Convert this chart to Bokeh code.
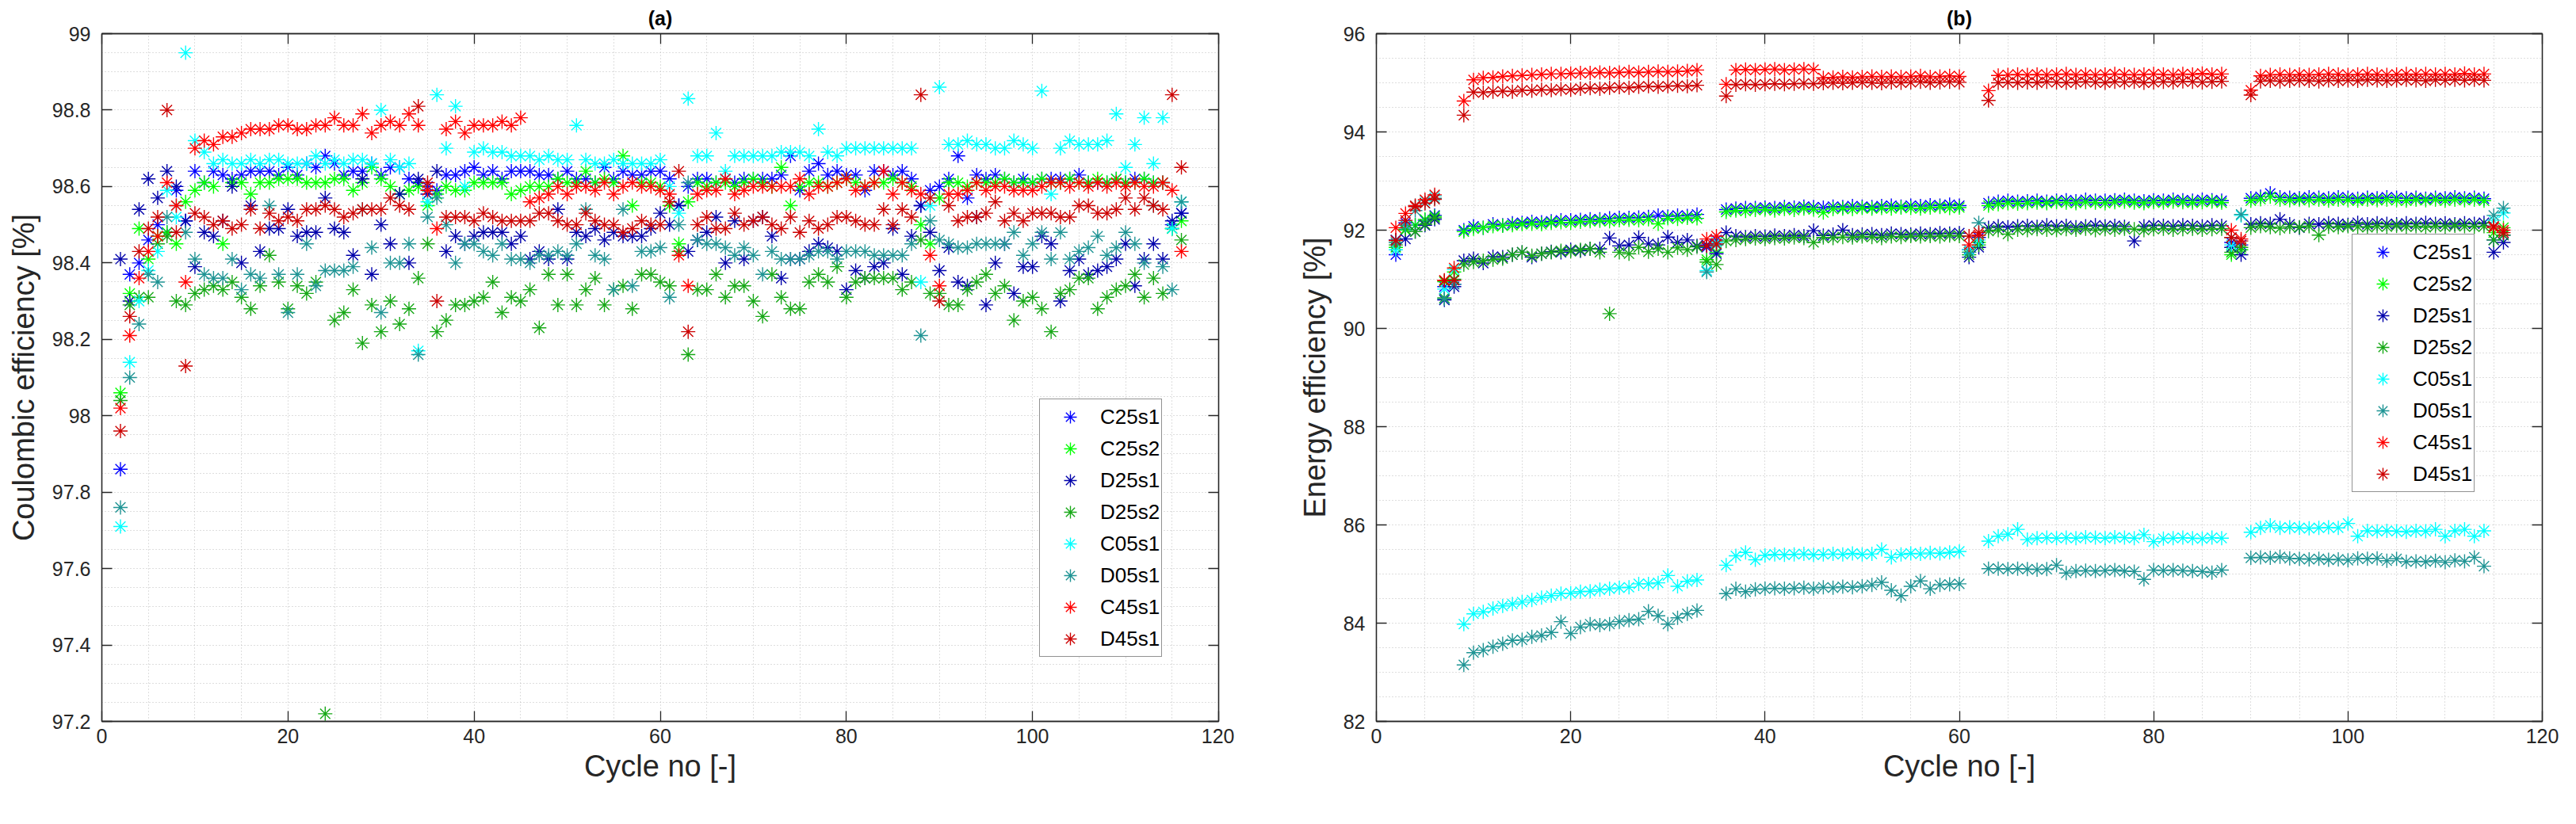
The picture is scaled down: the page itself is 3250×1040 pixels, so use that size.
from bokeh.plotting import figure
from bokeh.layouts import row
from bokeh.models import ColumnDataSource, FixedTicker, LinearAxis, Range1d
from bokeh.embed import file_html
from bokeh.resources import INLINE

# cycle numbers on the x axis
CYCLES = list(range(2, 117))

SERIES = ["C25s1", "C25s2", "D25s1", "D25s2", "C05s1", "D05s1", "C45s1", "D45s1"]
COLORS = ["#0000ff", "#00ff00", "#0000aa", "#17a817", "#00ffff", "#1f9494", "#ff0000", "#cc0000"]

# ---- Coulombic efficiency [%], cycles 2..116 (rows: 2-10, 11-20, ..., 111-116)
CE_C25S1 = [97.86, 98.37, 98.40, 98.46, 98.50, 98.48, 98.59, 98.51, 98.64,
            98.61, 98.64, 98.63, 98.62, 98.63, 98.64, 98.64, 98.64, 98.63, 98.65,
            98.63, 98.66, 98.65, 98.68, 98.66, 98.63, 98.64, 98.64, 98.66, 98.63,
            98.65, 98.65, 98.62, 98.61, 98.60, 98.59, 98.63, 98.63, 98.64, 98.65,
            98.63, 98.64, 98.62, 98.64, 98.64, 98.64, 98.63, 98.63, 98.62, 98.64,
            98.62, 98.62, 98.61, 98.65, 98.62, 98.64, 98.63, 98.63, 98.64, 98.64,
            98.62, 98.55, 98.60, 98.62, 98.62, 98.61, 98.62, 98.61, 98.62, 98.62,
            98.62, 98.62, 98.63, 98.68, 98.59, 98.64, 98.66, 98.63, 98.64, 98.63,
            98.63, 98.59, 98.64, 98.64, 98.63, 98.64, 98.62, 98.55, 98.59, 98.60,
            98.62, 98.68, 98.57, 98.63, 98.62, 98.63, 98.62, 98.61, 98.62, 98.61,
            98.62, 98.62, 98.62, 98.62, 98.63, 98.61, 98.61, 98.61, 98.62, 98.61,
            98.62, 98.62, 98.61, 98.61, 98.50, 98.53]
CE_C25S2 = [98.06, 98.32, 98.49, 98.41, 98.47, 98.48, 98.45, 98.56, 98.59,
            98.61, 98.60, 98.45, 98.61, 98.61, 98.58, 98.61, 98.61, 98.62, 98.62,
            98.62, 98.61, 98.61, 98.61, 98.62, 98.62, 98.59, 98.61, 98.65, 98.62,
            98.60, 98.58, 98.59, 98.60, 98.55, 98.58, 98.60, 98.59, 98.59, 98.61,
            98.61, 98.61, 98.61, 98.58, 98.59, 98.60, 98.60, 98.60, 98.62, 98.61,
            98.61, 98.64, 98.61, 98.62, 98.61, 98.68, 98.55, 98.61, 98.61, 98.60,
            98.55, 98.45, 98.56, 98.61, 98.60, 98.61, 98.61, 98.60, 98.61, 98.62,
            98.61, 98.60, 98.65, 98.55, 98.60, 98.61, 98.61, 98.60, 98.61, 98.62,
            98.61, 98.60, 98.61, 98.61, 98.62, 98.61, 98.60, 98.50, 98.45, 98.57,
            98.61, 98.61, 98.60, 98.61, 98.61, 98.61, 98.62, 98.61, 98.61, 98.61,
            98.62, 98.61, 98.61, 98.62, 98.61, 98.61, 98.62, 98.61, 98.62, 98.61,
            98.61, 98.62, 98.61, 98.61, 98.49, 98.51]
CE_D25S1 = [98.41, 98.30, 98.54, 98.62, 98.57, 98.64, 98.60, 98.51, 98.39,
            98.48, 98.47, 98.51, 98.60, 98.40, 98.55, 98.43, 98.49, 98.49, 98.54,
            98.47, 98.48, 98.48, 98.57, 98.49, 98.48, 98.42, 98.62, 98.37, 98.50,
            98.45, 98.58, 98.40, 98.62, 98.58, 98.64, 98.43, 98.47, 98.45, 98.47,
            98.48, 98.48, 98.48, 98.45, 98.47, 98.41, 98.43, 98.41, 98.54, 98.41,
            98.48, 98.47, 98.49, 98.46, 98.48, 98.47, 98.47, 98.47, 98.49, 98.53,
            98.50, 98.55, 98.43, 98.46, 98.48, 98.52, 98.40, 98.51, 98.41, 98.51,
            98.52, 98.47, 98.36, 98.41, 98.41, 98.43, 98.45, 98.44, 98.43, 98.33,
            98.38, 98.36, 98.39, 98.40, 98.49, 98.37, 98.47, 98.55, 98.48, 98.38,
            98.44, 98.35, 98.34, 98.52, 98.29, 98.40, 98.45, 98.32, 98.39, 98.39,
            98.47, 98.45, 98.30, 98.38, 98.41, 98.37, 98.38, 98.39, 98.41, 98.45,
            98.34, 98.41, 98.45, 98.41, 98.51, 98.53]
CE_D25S2 = [98.04, 98.29, 98.31, 98.31, 98.45, 98.47, 98.30, 98.29, 98.32,
            98.33, 98.34, 98.33, 98.35, 98.31, 98.28, 98.34, 98.42, 98.35, 98.28,
            98.34, 98.32, 98.35, 97.22, 98.25, 98.27, 98.33, 98.19, 98.29, 98.22,
            98.30, 98.24, 98.28, 98.36, 98.45, 98.22, 98.25, 98.29, 98.29, 98.30,
            98.31, 98.35, 98.27, 98.31, 98.30, 98.33, 98.23, 98.37, 98.29, 98.37,
            98.29, 98.33, 98.36, 98.29, 98.33, 98.34, 98.28, 98.37, 98.37, 98.35,
            98.34, 98.43, 98.16, 98.33, 98.33, 98.37, 98.31, 98.34, 98.34, 98.30,
            98.26, 98.37, 98.31, 98.28, 98.28, 98.35, 98.37, 98.35, 98.39, 98.31,
            98.35, 98.36, 98.36, 98.36, 98.36, 98.33, 98.35, 98.46, 98.32, 98.32,
            98.29, 98.29, 98.33, 98.35, 98.37, 98.32, 98.34, 98.25, 98.30, 98.31,
            98.28, 98.22, 98.32, 98.33, 98.36, 98.36, 98.28, 98.31, 98.33, 98.34,
            98.37, 98.31, 98.36, 98.32, 98.49, 98.46]
CE_C05S1 = [97.71, 98.14, 98.30, 98.38, 98.43, 98.59, 98.52, 98.95, 98.72,
            98.69, 98.66, 98.67, 98.66, 98.66, 98.67, 98.66, 98.67, 98.67, 98.66,
            98.66, 98.66, 98.68, 98.66, 98.67, 98.66, 98.67, 98.67, 98.66, 98.80,
            98.67, 98.65, 98.66, 98.17, 98.56, 98.84, 98.70, 98.81, 98.60, 98.69,
            98.70, 98.69, 98.69, 98.68, 98.68, 98.68, 98.67, 98.68, 98.67, 98.67,
            98.76, 98.67, 98.66, 98.66, 98.67, 98.66, 98.66, 98.66, 98.66, 98.67,
            98.60, 98.53, 98.83, 98.68, 98.68, 98.74, 98.64, 98.68, 98.68, 98.68,
            98.68, 98.68, 98.69, 98.69, 98.69, 98.68, 98.75, 98.69, 98.68, 98.70,
            98.70, 98.70, 98.70, 98.70, 98.70, 98.70, 98.70, 98.35, 98.55, 98.86,
            98.71, 98.71, 98.72, 98.71, 98.71, 98.70, 98.70, 98.72, 98.71, 98.70,
            98.85, 98.58, 98.70, 98.72, 98.71, 98.71, 98.71, 98.72, 98.79, 98.65,
            98.71, 98.78, 98.66, 98.78, 98.49, 98.56]
CE_D05S1 = [97.76, 98.10, 98.24, 98.37, 98.35, 98.52, 98.55, 98.48, 98.41,
            98.37, 98.36, 98.36, 98.41, 98.33, 98.37, 98.36, 98.55, 98.37, 98.27,
            98.37, 98.45, 98.34, 98.38, 98.38, 98.38, 98.39, 98.54, 98.44, 98.27,
            98.40, 98.40, 98.45, 98.16, 98.52, 98.57, 98.50, 98.40, 98.45, 98.45,
            98.43, 98.42, 98.45, 98.41, 98.41, 98.40, 98.42, 98.42, 98.43, 98.42,
            98.45, 98.54, 98.42, 98.41, 98.33, 98.54, 98.34, 98.43, 98.43, 98.44,
            98.31, 98.50, 98.61, 98.46, 98.45, 98.45, 98.44, 98.42, 98.44, 98.42,
            98.37, 98.43, 98.41, 98.41, 98.41, 98.42, 98.43, 98.43, 98.41, 98.43,
            98.43, 98.43, 98.42, 98.42, 98.42, 98.42, 98.45, 98.21, 98.51, 98.46,
            98.45, 98.44, 98.44, 98.45, 98.45, 98.45, 98.45, 98.48, 98.42, 98.45,
            98.48, 98.41, 98.48, 98.41, 98.43, 98.44, 98.47, 98.42, 98.44, 98.48,
            98.45, 98.40, 98.55, 98.39, 98.33, 98.56]
CE_C45S1 = [98.02, 98.21, 98.36, 98.43, 98.47, 98.61, 98.55, 98.35, 98.70,
            98.72, 98.71, 98.73, 98.73, 98.74, 98.75, 98.75, 98.75, 98.76, 98.76,
            98.75, 98.75, 98.76, 98.76, 98.78, 98.76, 98.76, 98.79, 98.74, 98.76,
            98.77, 98.76, 98.79, 98.76, 98.59, 98.49, 98.75, 98.77, 98.74, 98.76,
            98.76, 98.76, 98.77, 98.76, 98.78, 98.56, 98.57, 98.58, 98.60, 98.58,
            98.60, 98.60, 98.59, 98.61, 98.58, 98.60, 98.61, 98.60, 98.60, 98.59,
            98.58, 98.42, 98.34, 98.58, 98.59, 98.59, 98.62, 98.58, 98.59, 98.60,
            98.60, 98.60, 98.60, 98.60, 98.62, 98.58, 98.60, 98.60, 98.61, 98.62,
            98.59, 98.60, 98.61, 98.64, 98.58, 98.61, 98.59, 98.58, 98.42, 98.34,
            98.58, 98.58, 98.59, 98.61, 98.59, 98.60, 98.60, 98.59, 98.59, 98.59,
            98.60, 98.61, 98.61, 98.60, 98.61, 98.60, 98.61, 98.60, 98.61, 98.60,
            98.61, 98.60, 98.60, 98.61, 98.59, 98.43]
CE_D45S1 = [97.96, 98.26, 98.43, 98.49, 98.52, 98.80, 98.48, 98.13, 98.53,
            98.52, 98.50, 98.51, 98.49, 98.50, 98.54, 98.49, 98.53, 98.51, 98.52,
            98.51, 98.54, 98.54, 98.55, 98.54, 98.52, 98.53, 98.54, 98.54, 98.54,
            98.57, 98.55, 98.54, 98.81, 98.61, 98.30, 98.52, 98.52, 98.52, 98.51,
            98.53, 98.52, 98.51, 98.51, 98.51, 98.51, 98.53, 98.53, 98.51, 98.50,
            98.50, 98.53, 98.51, 98.50, 98.50, 98.48, 98.49, 98.51, 98.50, 98.50,
            98.56, 98.64, 98.22, 98.50, 98.52, 98.49, 98.49, 98.53, 98.50, 98.51,
            98.52, 98.50, 98.49, 98.52, 98.48, 98.51, 98.49, 98.50, 98.52, 98.52,
            98.51, 98.50, 98.50, 98.54, 98.50, 98.54, 98.52, 98.84, 98.57, 98.30,
            98.55, 98.51, 98.52, 98.52, 98.53, 98.56, 98.51, 98.53, 98.51, 98.53,
            98.53, 98.53, 98.52, 98.52, 98.55, 98.55, 98.53, 98.53, 98.54, 98.57,
            98.54, 98.57, 98.55, 98.54, 98.84, 98.65]

# ---- Energy efficiency [%], cycles 2..116 (rows: 2-10, 11-20, ..., 111-116)
EE_C25S1 = [91.50, 92.15, 92.10, 92.20, 92.30, 90.85, 90.90, 92.00, 92.08,
            92.05, 92.12, 92.10, 92.14, 92.15, 92.17, 92.16, 92.18, 92.20, 92.20,
            92.21, 92.22, 92.22, 92.24, 92.25, 92.25, 92.26, 92.27, 92.30, 92.28,
            92.30, 92.29, 92.32, 91.65, 91.80, 92.42, 92.44, 92.45, 92.45, 92.46,
            92.45, 92.47, 92.46, 92.48, 92.47, 92.46, 92.48, 92.47, 92.49, 92.48,
            92.47, 92.49, 92.50, 92.48, 92.50, 92.49, 92.51, 92.50, 92.52, 92.50,
            91.60, 91.85, 92.55, 92.58, 92.60, 92.58, 92.59, 92.60, 92.58, 92.60,
            92.61, 92.59, 92.62, 92.60, 92.60, 92.61, 92.62, 92.60, 92.59, 92.61,
            92.60, 92.62, 92.61, 92.60, 92.62, 92.61, 92.60, 91.75, 91.70, 92.65,
            92.68, 92.75, 92.67, 92.66, 92.65, 92.67, 92.66, 92.65, 92.67, 92.66,
            92.64, 92.66, 92.65, 92.67, 92.66, 92.65, 92.66, 92.64, 92.66, 92.65,
            92.67, 92.65, 92.66, 92.64, 91.80, 91.90]
EE_C25S2 = [91.65, 92.00, 92.10, 92.22, 92.28, 90.95, 91.15, 91.97, 92.03,
            92.05, 92.08, 92.09, 92.10, 92.12, 92.13, 92.12, 92.15, 92.16, 92.15,
            92.17, 92.18, 92.19, 92.18, 92.20, 92.21, 92.20, 92.22, 92.13, 92.24,
            92.23, 92.25, 92.24, 91.40, 91.55, 92.37, 92.40, 92.39, 92.41, 92.42,
            92.40, 92.43, 92.41, 92.44, 92.42, 92.36, 92.43, 92.44, 92.43, 92.45,
            92.44, 92.45, 92.44, 92.46, 92.45, 92.44, 92.46, 92.47, 92.45, 92.46,
            91.55, 91.75, 92.50, 92.53, 92.55, 92.54, 92.55, 92.56, 92.55, 92.57,
            92.56, 92.55, 92.57, 92.56, 92.55, 92.57, 92.58, 92.56, 92.55, 92.57,
            92.56, 92.58, 92.57, 92.56, 92.57, 92.58, 92.56, 91.50, 91.60, 92.60,
            92.63, 92.68, 92.62, 92.61, 92.62, 92.61, 92.62, 92.60, 92.62, 92.61,
            92.60, 92.62, 92.61, 92.62, 92.61, 92.60, 92.62, 92.61, 92.62, 92.60,
            92.62, 92.61, 92.62, 92.60, 91.95, 92.05]
EE_D25S1 = [91.80, 91.82, 91.97, 92.10, 92.22, 90.58, 90.85, 91.38, 91.42,
            91.33, 91.46, 91.45, 91.50, 91.55, 91.45, 91.52, 91.56, 91.55, 91.60,
            91.58, 91.62, 91.62, 91.84, 91.68, 91.70, 91.85, 91.72, 91.70, 91.86,
            91.75, 91.80, 91.68, 91.70, 91.52, 91.95, 91.88, 91.86, 91.88, 91.87,
            91.89, 91.88, 91.90, 91.88, 91.99, 91.89, 91.91, 92.00, 91.90, 91.91,
            91.92, 91.90, 91.93, 91.92, 91.91, 91.93, 91.92, 91.94, 91.93, 91.94,
            91.45, 91.65, 92.05, 92.08, 92.06, 92.08, 92.09, 92.07, 92.10, 92.08,
            92.09, 92.06, 92.08, 92.10, 92.08, 92.09, 92.07, 91.78, 92.08, 92.10,
            92.09, 92.08, 92.10, 92.09, 92.08, 92.10, 92.09, 91.65, 91.50, 92.12,
            92.14, 92.13, 92.22, 92.12, 92.05, 92.13, 92.12, 92.14, 92.13, 92.11,
            92.15, 92.12, 92.14, 92.13, 92.12, 92.14, 92.13, 92.15, 92.13, 92.14,
            92.12, 92.14, 92.13, 92.15, 91.55, 91.75]
EE_D25S2 = [91.70, 92.02, 91.97, 92.12, 92.25, 90.62, 91.00, 91.30, 91.35,
            91.38, 91.40, 91.42, 91.50, 91.55, 91.48, 91.52, 91.55, 91.58, 91.57,
            91.60, 91.62, 91.55, 90.30, 91.55, 91.52, 91.65, 91.56, 91.62, 91.55,
            91.64, 91.60, 91.66, 91.35, 91.30, 91.78, 91.80, 91.82, 91.83, 91.82,
            91.84, 91.83, 91.85, 91.84, 91.75, 91.85, 91.84, 91.86, 91.85, 91.87,
            91.86, 91.84, 91.87, 91.86, 91.88, 91.87, 91.88, 91.87, 91.89, 91.88,
            91.50, 91.70, 91.98, 92.00, 91.92, 92.01, 92.00, 92.02, 92.01, 92.00,
            92.02, 92.01, 92.03, 92.00, 92.02, 92.01, 92.03, 92.02, 92.00, 92.02,
            92.03, 92.01, 92.02, 92.03, 92.01, 92.02, 92.03, 91.55, 91.65, 92.05,
            92.08, 92.06, 92.04, 92.07, 92.06, 92.08, 91.90, 92.07, 92.06, 92.08,
            92.07, 92.06, 92.08, 92.07, 92.09, 92.07, 92.08, 92.06, 92.08, 92.07,
            92.09, 92.08, 92.07, 92.08, 91.80, 91.90]
EE_C05S1 = [91.60, 92.10, 92.50, 92.60, 92.70, 90.80, 91.20, 83.98, 84.19,
            84.23, 84.30, 84.35, 84.39, 84.43, 84.47, 84.52, 84.56, 84.60, 84.61,
            84.64, 84.65, 84.68, 84.70, 84.72, 84.73, 84.80, 84.80, 84.82, 84.97,
            84.75, 84.85, 84.88, 91.18, 91.75, 85.18, 85.37, 85.44, 85.29, 85.38,
            85.40, 85.39, 85.40, 85.41, 85.39, 85.40, 85.41, 85.40, 85.42, 85.40,
            85.41, 85.50, 85.34, 85.40, 85.42, 85.41, 85.43, 85.42, 85.44, 85.46,
            91.60, 91.80, 85.67, 85.77, 85.81, 85.91, 85.70, 85.73, 85.74, 85.73,
            85.74, 85.73, 85.75, 85.74, 85.73, 85.75, 85.74, 85.73, 85.80, 85.66,
            85.72, 85.73, 85.74, 85.73, 85.72, 85.74, 85.73, 91.70, 92.30, 85.85,
            85.94, 85.99, 85.94, 85.95, 85.94, 85.93, 85.94, 85.95, 85.94, 86.03,
            85.77, 85.88, 85.87, 85.88, 85.87, 85.86, 85.88, 85.87, 85.91, 85.77,
            85.88, 85.91, 85.77, 85.88, 92.20, 92.35]
EE_D05S1 = [91.75, 92.10, 92.40, 92.55, 92.65, 90.60, 90.90, 83.15, 83.40,
            83.45, 83.52, 83.58, 83.65, 83.66, 83.72, 83.75, 83.81, 84.03, 83.79,
            83.92, 83.98, 83.96, 83.98, 84.03, 84.06, 84.08, 84.24, 84.15, 83.98,
            84.11, 84.19, 84.26, 91.15, 91.70, 84.60, 84.70, 84.64, 84.69, 84.70,
            84.71, 84.70, 84.71, 84.72, 84.70, 84.73, 84.72, 84.74, 84.73, 84.75,
            84.78, 84.83, 84.67, 84.56, 84.75, 84.86, 84.70, 84.78, 84.79, 84.80,
            91.55, 92.15, 85.11, 85.11, 85.10, 85.11, 85.10, 85.09, 85.10, 85.18,
            85.02, 85.06, 85.07, 85.06, 85.07, 85.08, 85.06, 85.05, 84.89, 85.08,
            85.07, 85.08, 85.07, 85.06, 85.05, 85.03, 85.08, 91.85, 92.32, 85.33,
            85.34, 85.33, 85.35, 85.32, 85.31, 85.30, 85.31, 85.29, 85.30, 85.28,
            85.32, 85.31, 85.32, 85.27, 85.31, 85.25, 85.26, 85.25, 85.27, 85.24,
            85.28, 85.26, 85.34, 85.16, 92.30, 92.45]
EE_C45S1 = [92.05, 92.34, 92.50, 92.62, 92.72, 90.98, 91.23, 94.63, 95.06,
            95.10, 95.11, 95.13, 95.14, 95.15, 95.16, 95.17, 95.18, 95.18, 95.19,
            95.20, 95.20, 95.21, 95.20, 95.21, 95.22, 95.21, 95.22, 95.23, 95.22,
            95.23, 95.24, 95.26, 91.82, 91.88, 94.97, 95.26, 95.27, 95.26, 95.27,
            95.28, 95.26, 95.27, 95.28, 95.27, 95.10, 95.11, 95.12, 95.11, 95.12,
            95.13, 95.12, 95.13, 95.12, 95.13, 95.14, 95.12, 95.13, 95.14, 95.13,
            91.70, 91.90, 94.84, 95.15, 95.16, 95.17, 95.16, 95.17, 95.16, 95.17,
            95.18, 95.16, 95.17, 95.16, 95.17, 95.18, 95.17, 95.16, 95.17, 95.18,
            95.17, 95.16, 95.18, 95.17, 95.19, 95.17, 95.18, 92.00, 91.82, 94.85,
            95.14, 95.16, 95.17, 95.16, 95.17, 95.16, 95.17, 95.18, 95.17, 95.16,
            95.17, 95.18, 95.17, 95.16, 95.17, 95.18, 95.17, 95.18, 95.17, 95.18,
            95.17, 95.19, 95.17, 95.18, 92.05, 92.00]
EE_D45S1 = [91.79, 92.20, 92.48, 92.55, 92.63, 90.97, 90.98, 94.34, 94.81,
            94.80, 94.82, 94.83, 94.82, 94.85, 94.84, 94.86, 94.85, 94.87, 94.86,
            94.88, 94.89, 94.88, 94.90, 94.91, 94.90, 94.92, 94.93, 94.92, 94.93,
            94.94, 94.93, 94.95, 91.68, 91.72, 94.73, 94.96, 94.97, 94.96, 94.97,
            94.98, 94.97, 94.98, 94.99, 94.98, 94.99, 95.00, 94.99, 95.00, 95.01,
            95.00, 94.99, 95.01, 95.00, 95.01, 95.02, 95.00, 95.01, 95.02, 95.01,
            91.88, 91.95, 94.64, 95.00, 95.01, 95.00, 95.01, 95.00, 95.02, 95.01,
            95.00, 95.01, 95.02, 95.01, 95.00, 95.02, 95.01, 95.02, 95.00, 95.01,
            95.02, 95.01, 95.03, 95.02, 95.01, 95.02, 95.03, 91.85, 91.78, 94.75,
            95.03, 95.04, 95.03, 95.04, 95.05, 95.04, 95.03, 95.05, 95.04, 95.05,
            95.04, 95.06, 95.05, 95.04, 95.05, 95.06, 95.05, 95.04, 95.06, 95.05,
            95.06, 95.05, 95.06, 95.05, 92.08, 91.95]

CE_DATA = [CE_C25S1, CE_C25S2, CE_D25S1, CE_D25S2, CE_C05S1, CE_D05S1, CE_C45S1, CE_D45S1]
EE_DATA = [EE_C25S1, EE_C25S2, EE_D25S1, EE_D25S2, EE_C05S1, EE_D05S1, EE_C45S1, EE_D45S1]

X_TICKS = [0, 20, 40, 60, 80, 100, 120]
CE_TICKS = [97.2, 97.4, 97.6, 97.8, 98.0, 98.2, 98.4, 98.6, 98.8, 99.0]
CE_TICK_LABELS = ["97.2", "97.4", "97.6", "97.8", "98", "98.2", "98.4", "98.6", "98.8", "99"]
EE_TICKS = [82, 84, 86, 88, 90, 92, 94, 96]
EE_TICK_LABELS = ["82", "84", "86", "88", "90", "92", "94", "96"]

FONT = "Liberation Sans"
INK = "#262626"
GRID = "#bdbdbd"


def minor_list(lo, hi, step, majors):
    out = []
    v = lo
    while v < hi + step / 2:
        r = round(v, 3)
        if all(abs(r - m) > step / 10 for m in majors):
            out.append(r)
        v += step
    return out


def make_panel(title, ylabel, y0, y1, yticks, ylabels, ystep, data,
               frame_w, border_l, border_r, legend_xy):
    p = figure(frame_width=frame_w, frame_height=868,
               x_range=Range1d(0, 120), y_range=Range1d(y0, y1),
               output_backend="svg", toolbar_location=None,
               min_border_left=border_l, min_border_right=border_r,
               min_border_top=42, min_border_bottom=100,
               background_fill_color="white", border_fill_color="white")

    p.title.text = title
    p.title.align = "center"
    p.title.text_font = FONT
    p.title.text_font_size = "25px"
    p.title.text_font_style = "bold"
    p.title.text_color = "#000000"
    p.title.standoff = 4

    src = ColumnDataSource(dict(x=CYCLES, **{n: v for n, v in zip(SERIES, data)}))
    for name, col in zip(SERIES, COLORS):
        p.scatter("x", name, source=src, marker="asterisk", size=18,
                  line_color=col, line_width=1.4, legend_label=name)

    xt = FixedTicker(ticks=X_TICKS, minor_ticks=minor_list(0, 120, 5, X_TICKS))
    yt = FixedTicker(ticks=yticks, minor_ticks=minor_list(y0, y1, ystep, yticks))

    p.xaxis.ticker = xt
    p.yaxis.ticker = yt
    p.yaxis.major_label_overrides = {t: l for t, l in zip(yticks, ylabels)}
    p.xaxis.axis_label = "Cycle no [-]"
    p.yaxis.axis_label = ylabel

    # box axes on top and right: tick marks only, no labels drawn
    top = LinearAxis(ticker=xt)
    rgt = LinearAxis(ticker=yt)
    p.add_layout(top, "above")
    p.add_layout(rgt, "right")

    for ax in p.xaxis + p.yaxis:
        ax.axis_line_color = INK
        ax.axis_line_width = 1.3
        ax.major_tick_line_color = INK
        ax.major_tick_line_width = 1.3
        ax.major_tick_in = 13
        ax.major_tick_out = 0
        ax.minor_tick_line_color = None
        ax.major_label_text_font = FONT
        ax.major_label_text_font_size = "25px"
        ax.major_label_text_color = INK
        ax.axis_label_text_font = FONT
        ax.axis_label_text_font_size = "38px"
        ax.axis_label_text_font_style = "normal"
        ax.axis_label_text_color = INK
    for ax in (top, rgt):
        ax.major_label_text_color = None
        ax.major_label_text_font_size = "2px"
        ax.major_label_standoff = 0
    p.xaxis[0].major_label_standoff = 14
    p.xaxis[0].axis_label_standoff = 10
    p.yaxis[0].major_label_standoff = 10
    p.yaxis[0].axis_label_standoff = 12

    p.outline_line_color = INK
    p.outline_line_width = 1.3

    for g in (p.xgrid, p.ygrid):
        g.grid_line_color = GRID
        g.grid_line_dash = "1 3"
        g.grid_line_width = 1
        g.minor_grid_line_color = GRID
        g.minor_grid_line_dash = "1 3"
        g.minor_grid_line_width = 1

    lg = p.legend[0]
    lg.location = legend_xy
    lg.label_text_font = FONT
    lg.label_text_font_size = "26px"
    lg.label_text_color = "#000000"
    lg.border_line_color = INK
    lg.border_line_width = 1.3
    lg.background_fill_color = "white"
    lg.background_fill_alpha = 1.0
    lg.glyph_width = 72
    lg.glyph_height = 40
    lg.label_height = 40
    lg.spacing = -6
    lg.padding = 2
    lg.margin = 0
    lg.label_standoff = 2
    return p


p1 = make_panel("(a)", "Coulombic efficiency [%]", 97.2, 99.0, CE_TICKS, CE_TICK_LABELS, 0.05,
                CE_DATA, 1409, 128, 20, (1183, 81))
p2 = make_panel("(b)", "Energy efficiency [%]", 82, 96, EE_TICKS, EE_TICK_LABELS, 0.5,
                EE_DATA, 1471, 179, 25, (1231, 289))

layout = row(p1, p2)
open("out.html", "w").write(file_html(layout, INLINE))
